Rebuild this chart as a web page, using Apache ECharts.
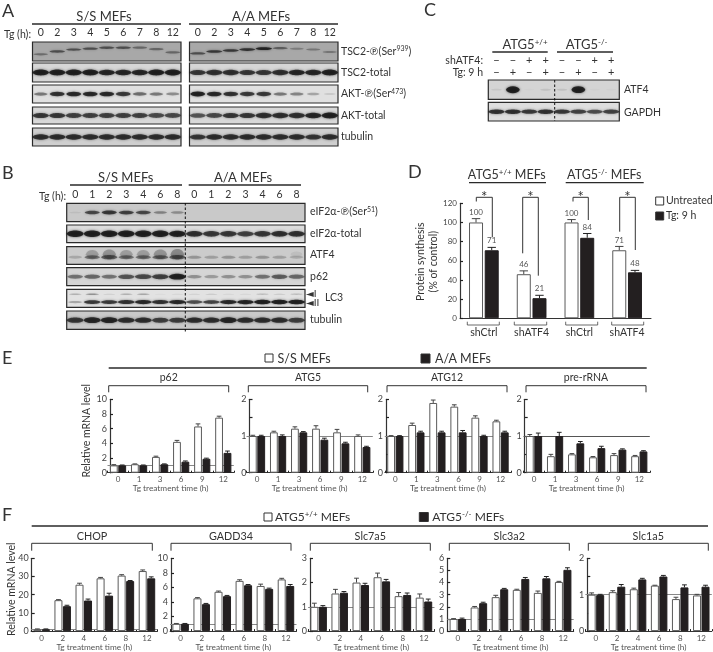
<!DOCTYPE html>
<html><head><meta charset="utf-8">
<script src="https://cdn.jsdelivr.net/npm/echarts@6/dist/echarts.min.js"></script>
<style>html,body{margin:0;padding:0;background:#fff}#c{width:713px;height:652px;filter:blur(.3px)}</style>
</head><body><div id="c"></div>
<script>
// ---------- DATA ----------
const lanesA = ['0','2','3','4','5','6','7','8','12'];
const lanesB = ['0','1','2','3','4','6','8','0','1','2','3','4','6','8'];
const shATF4Signs = ['−','−','+','+','−','−','+','+'];
const tgSigns     = ['−','+','−','+','−','+','−','+'];
// Panel A band intensities (0-1)
const tsc2pSS   = [.4,.6,.6,.6,.6,.6,.45,.45,.45];
const tsc2pSSy  = [-.3,0,.2,.3,.4,.4,.4,.25,-.1];
const tsc2pAA   = [.6,.75,.75,.8,.9,.5,.3,.35,.35];
const tsc2pAAy  = [-.2,0,.1,.2,.3,.35,.3,.2,-.05];
const tsc2tSS   = [.95,.95,.95,.95,.9,.9,.9,.95,1];
const tsc2tAA   = [.8,.85,.85,.8,.8,.85,.9,.9,.95];
const aktpSS    = [.5,.85,.9,.9,.9,.8,.55,.5,.4];
const aktpAA    = [1,.9,.85,.8,.8,.5,.45,.3,.12];
const akttSS    = [.8,.8,.75,.75,.75,.75,.75,.7,.7];
const akttAA    = [.65,.7,.8,.8,.85,.85,.85,.9,.95];
const tubASS    = [.85,.85,.85,.85,.85,.85,.85,.85,.85];
const tubAAA    = [.8,.85,.85,.85,.85,.85,.85,.8,.85];
// Panel B
const eif2p     = [.08,.7,.8,.75,.7,.4,.35,0,0,0,0,0,0,0];
const eif2t     = [1,1,1,1,1,1,.95,.85,.8,.8,.75,.8,.85,.85];
const atf4B     = [.2,.5,.6,.5,.5,.55,.6,.3,.25,.3,.25,.3,.25,.2];
const atf4Smear = [0,.25,.3,.25,.25,.3,.35,0,0,0,0,0,0,.08];
const p62B      = [.5,.55,.5,.65,.7,.75,.95,.35,.3,.35,.35,.5,.6,.55];
const lc3I      = [.25,.4,.12,.25,.3,.05,.08,.1,.15,.08,.08,.2,.15,.2];
const lc3II     = [.3,.8,.8,.85,.9,.85,.9,.7,.75,.9,.95,1,1,1];
const tubB      = [.8,.9,.9,.85,.85,.75,.75,.85,.85,.9,.85,.85,.85,.75];
// Panel C
const atf4C     = [.08,1,.02,.1,.1,.95,.03,.03];
const gapdhC    = [.85,.85,.8,.85,.8,.75,.7,.75];
// Panel D
const dCats      = ['shCtrl','shATF4','shCtrl','shATF4'];
const dUntreated = [100,46,100,71];
const dUntreatedErr = [4,3.5,3,4];
const dTg        = [71,21,84,48];
const dTgErr     = [3,3,4.5,2];
// Panel E
const eCats = ['0','1','3','6','9','12'];
const p62S = [1,1.15,2.15,4.2,6.3,7.5],   p62SErr = [.1,.05,.1,.2,.35,.2];
const p62A = [1,1,1.15,1.5,1.9,2.7],      p62AErr = [.05,.05,.05,.1,.08,.25];
const atg5S = [1,1.1,1.2,1.2,1.1,1.0],    atg5SErr = [.02,.03,.05,.08,.08,.03];
const atg5A = [1,1,1.1,.9,.8,.7],         atg5AErr = [.02,.03,.02,.04,.03,.02];
const atg12S = [1,1.3,1.9,1.8,1.5,1.4],   atg12SErr = [.01,.05,.08,.05,.05,.03];
const atg12A = [1,1.1,1.1,1.1,1,1.1],     atg12AErr = [.01,.03,.03,.05,.02,.03];
const preS = [1,.45,.5,.42,.48,.45],      preSErr = [.04,.05,.02,.02,.04,.02];
const preA = [1,1,.8,.67,.63,.58],        preAErr = [.08,.1,.05,.05,.02,.02];
// Panel F
const fCats = ['0','2','4','6','8','12'];
const chopW = [1,17,25.5,29,30.5,33],     chopWErr = [.2,.3,.8,.5,.5,.6];
const chopK = [1,13.7,16.8,19.5,27.5,29], chopKErr = [.2,.5,.8,1.3,.3,.8];
const gaddW = [1,4.5,5.4,6.9,6.2,7.1],    gaddWErr = [.05,.1,.1,.15,.25,.15];
const gaddK = [1,3.7,4.8,6.3,5.8,6.2],    gaddKErr = [.05,.1,.1,.1,.1,.2];
const slc7W = [1,1.55,2.0,2.22,1.44,1.38],slc7WErr = [.15,.17,.18,.17,.15,.15];
const slc7K = [1,1.58,1.9,2.05,1.49,1.22],slc7KErr = [.05,.05,.07,.08,.08,.1];
const slc3W = [1,1.95,2.8,3.4,3.15,4.05], slc3WErr = [.03,.08,.15,.05,.15,.05];
const slc3K = [1,2.3,3.45,4.3,4.35,5.05], slc3KErr = [.07,.08,.07,.12,.15,.17];
const slc1W = [1.0,1.07,1.15,1.25,.88,.98],slc1WErr = [.05,.04,.03,.01,.05,.03];
const slc1K = [.99,1.22,1.42,1.5,1.2,1.22],slc1KErr = [.02,.06,.03,.03,.07,.04];

// ---------- HELPERS ----------
const FF = 'Lato, "Open Sans", "DejaVu Sans", sans-serif';
const INK = '#333';
const grid = [], xAxis = [], yAxis = [], series = [], gfx = [];
const LENS = 'path://M0,50 C10,6 90,6 100,50 C90,94 10,94 0,50 Z';

function blot(cfg) {
  const i = grid.length;
  grid.push({show:true,left:cfg.x,top:cfg.y,width:cfg.w,height:cfg.h,backgroundColor:cfg.bg,
    borderColor:'#2a2a2a',borderWidth:1.2,containLabel:false});
  xAxis.push({gridIndex:i,type:'category',data:cfg.labels,position:'top',
    axisLine:{show:false},axisTick:{show:false},splitLine:{show:false},
    axisLabel:{show:!!cfg.showLabels,interval:0,margin:cfg.margin||3,fontFamily:FF,fontSize:cfg.labelSize||10.5,color:INK,lineHeight:12}});
  yAxis.push({gridIndex:i,type:'value',min:-1,max:1,show:false});
  cfg.bands.forEach(b=>{
    const laneW = cfg.w/cfg.labels.length;
    series.push({type:'scatter',xAxisIndex:i,yAxisIndex:i,symbol:LENS,silent:true,z:3,
      data:b.v.map((v,k)=>{
        if(v<=0) return null;
        const a = Math.min(1,v*1.05);
        return {value:[k,b.yo?b.yo[k]:(b.y||0)],
          symbolSize:[laneW*(b.wf||1)*(.75+.25*Math.min(1,v*1.4)),(b.hMin||2)+(b.hMax||4)*v],
          itemStyle:{color:`rgba(12,12,12,${a})`,shadowBlur:2.5,shadowColor:`rgba(12,12,12,${a*.8})`}};
      }).filter(Boolean)});
  });
}

function barPanel(cfg) {
  const i = grid.length, bw = cfg.bw, gap = cfg.gap;
  grid.push({left:cfg.left,top:cfg.top,width:cfg.width,height:cfg.height,containLabel:false});
  xAxis.push({gridIndex:i,type:'category',data:cfg.cats,
    axisLine:{lineStyle:{color:'#333',width:1}},
    axisTick:cfg.noTicks?{show:false}:{show:true,length:2,inside:true,lineStyle:{color:'#222',width:1}},
    axisLabel:{interval:0,margin:cfg.xMargin||3,fontFamily:FF,fontSize:cfg.xSize||8,color:cfg.xColor||'#555'},
    name:cfg.xName||'',nameLocation:'middle',nameGap:11,nameTextStyle:{fontFamily:FF,fontSize:8.3,color:'#555'}});
  yAxis.push({gridIndex:i,type:'value',min:0,max:cfg.max,interval:cfg.interval,offset:cfg.yOffset||0,
    axisLine:{show:true,lineStyle:{color:'#333',width:1.2}},
    axisTick:{show:true,inside:true,length:3,lineStyle:{color:'#222',width:1.2}},
    splitLine:{show:false},
    axisLabel:{margin:3,fontFamily:FF,fontSize:cfg.ySize||9,color:'#444',
      formatter:v=>cfg.intOnly?(Number.isInteger(v)?v:''):v}});
  if(cfg.ref!==undefined){
    series.push({type:'line',xAxisIndex:i,yAxisIndex:i,data:cfg.cats.map(()=>cfg.ref),showSymbol:false,silent:true,z:1,
      lineStyle:{opacity:0},
      markLine:{silent:true,z:1,symbol:'none',label:{show:false},animation:false,
        lineStyle:{color:cfg.refColor||'#888',width:1,type:'solid'},data:[{yAxis:cfg.ref}]}});
  }
  const mk = (vals,errs,color,off,errColor,labels)=>{
    series.push({type:'bar',xAxisIndex:i,yAxisIndex:i,barWidth:bw,barGap:(gap/bw*100)+'%',z:2,
      itemStyle:{color,borderColor:color==='#fff'?'#5a5a5a':'#231f20',borderWidth:1},
      data:vals.map((v,k)=>labels?{value:v,label:{show:true,position:'top',distance:errs[k]*cfg.height/cfg.max+2.5,
        fontFamily:FF,fontSize:8,color:'#555'}}:v)});
    series.push({type:'custom',xAxisIndex:i,yAxisIndex:i,z:3,silent:true,clip:false,encode:{x:0,y:1},
      data:vals.map((v,k)=>[k,v,errs[k]]),
      renderItem:(p,api)=>{
        const k=api.value(0),v=api.value(1),e=api.value(2);
        const a=api.coord([k,v]),t=api.coord([k,v+e]),x=a[0]+off,c=bw*.3;
        return {type:'group',children:[
          {type:'line',shape:{x1:x,y1:a[1],x2:x,y2:t[1]},style:{stroke:errColor,lineWidth:1}},
          {type:'line',shape:{x1:x-c,y1:t[1],x2:x+c,y2:t[1]},style:{stroke:errColor,lineWidth:1}}]};
      }});
  };
  mk(cfg.w,cfg.wErr,'#fff',-(bw+gap)/2,'#444',cfg.labels);
  mk(cfg.k,cfg.kErr,'#231f20',(bw+gap)/2,'#222',cfg.labels);
}

function text(x,y,t,o={}){
  const size=o.size||10.5;
  const style={text:t,fontFamily:FF,fontSize:size,fill:o.color||INK,align:o.align||'left',verticalAlign:'middle'};
  if(o.rich) style.rich=o.rich;
  gfx.push({type:'text',x,y,rotation:o.rot||0,silent:true,z:20,style});
}
function line(pts,w=1,color='#2a2a2a',dash){
  gfx.push({type:'polyline',silent:true,z:19,shape:{points:pts},
    style:{stroke:color,lineWidth:w,fill:null,lineDash:dash||null}});
}
function square(x,y,s,fill){
  gfx.push({type:'rect',silent:true,z:19,shape:{x,y,width:s,height:s},style:{fill,stroke:'#333',lineWidth:1}});
}
function bracket(x0,x1,top,bot){ line([[x0,bot],[x0,top],[x1,top],[x1,bot]],1,'#333'); }
const richSup=(size,sup)=>({
  a:{fontFamily:FF,fontSize:size,fill:INK,color:INK},
  s:{fontFamily:FF,fontSize:sup,fill:INK,color:INK,verticalAlign:'top',padding:[0,0,Math.round(size*.45),0]}
});

// ---------- PANEL LETTERS ----------
text(2,11,'A',{size:18}); text(2,173,'B',{size:18}); text(424,10,'C',{size:18});
text(408,172,'D',{size:18}); text(2,358,'E',{size:18}); text(2,515,'F',{size:18});

// ---------- PANEL A ----------
const aRows=[
 {y:42,h:19,bg:'#a8a8a8',ss:[{v:tsc2pSS,yo:tsc2pSSy,hMin:1.5,hMax:1.5}],aa:[{v:tsc2pAA,yo:tsc2pAAy,hMin:1.5,hMax:1.5}],name:'TSC2-℗(Ser',sup:'939',close:')'},
 {y:63,h:19,bg:'#d6d6d6',ss:[{v:tsc2tSS,hMin:2,hMax:4}],aa:[{v:tsc2tAA,hMin:2,hMax:4}],name:'TSC2-total'},
 {y:85,h:18,bg:'#e0e0e0',ss:[{v:aktpSS,hMin:1.5,hMax:3.5,wf:.92}],aa:[{v:aktpAA,hMin:1.5,hMax:3.5,wf:.92}],name:'AKT-℗(Ser',sup:'473',close:')'},
 {y:107,h:17,bg:'#d8d8d8',ss:[{v:akttSS,hMin:2,hMax:4}],aa:[{v:akttAA,hMin:2,hMax:4}],name:'AKT-total'},
 {y:128,h:18,bg:'#cfcfcf',ss:[{v:tubASS,hMin:2,hMax:4}],aa:[{v:tubAAA,hMin:2,hMax:4}],name:'tubulin'}
];
aRows.forEach((r,n)=>{
  blot({x:32.5,y:r.y,w:148.5,h:r.h,bg:r.bg,labels:lanesA,bands:r.ss,showLabels:n===0});
  blot({x:189.5,y:r.y,w:148.5,h:r.h,bg:r.bg,labels:lanesA,bands:r.aa,showLabels:n===0});
  const cy=r.y+r.h/2;
  if(r.sup) text(341,cy,`{a|${r.name}}{s|${r.sup}}{a|${r.close}}`,{rich:richSup(10.5,7)});
  else text(341,cy,r.name);
});
text(104,16.5,'S/S MEFs',{size:13,align:'center'}); line([[32,24],[181,24]],1.5);
text(261,16.5,'A/A MEFs',{size:13,align:'center'}); line([[189,24],[338,24]],1.5);
text(31,35,'Tg (h):',{size:10.5,align:'right'});

// ---------- PANEL B ----------
const bRows=[
 {y:203.3,h:18.4,bg:'#c9c9c9',bands:[{v:eif2p,hMin:1.5,hMax:3,wf:.9}]},
 {y:225,h:17.7,bg:'#dcdcdc',bands:[{v:eif2t,hMin:2,hMax:4.5}]},
 {y:246.7,h:17.6,bg:'#cbcbcb',bands:[{v:atf4Smear,y:.15,hMin:4,hMax:18,wf:.9},{v:atf4B,y:-.2,hMin:2,hMax:4}]},
 {y:267.7,h:18,bg:'#d5d5d5',bands:[{v:p62B,hMin:2,hMax:4}]},
 {y:289.3,h:18,bg:'#e2e2e2',bands:[{v:lc3I,y:.45,hMin:1,hMax:1.5,wf:.9},{v:lc3II,y:-.42,hMin:1.5,hMax:3}]},
 {y:311,h:18.3,bg:'#c9c9c9',bands:[{v:tubB,hMin:2,hMax:4}]}
];
bRows.forEach((r,n)=>blot({x:66.7,y:r.y,w:238.3,h:r.h,bg:r.bg,labels:lanesB,bands:r.bands,showLabels:n===0}));
text(125.7,178,'S/S MEFs',{size:13,align:'center'}); line([[70,185],[182,185]],1.5);
text(243,178,'A/A MEFs',{size:13,align:'center'}); line([[188.7,185],[301,185]],1.5);
text(66,196.5,'Tg (h):',{size:10.5,align:'right'});
line([[185.3,203],[185.3,332]],1,'#111',[2.5,2]);
text(310,212,'{a|eIF2α-℗(Ser}{s|51}{a|)}',{rich:richSup(10.5,7)});
text(310,234,'eIF2α-total'); text(310,255,'ATF4'); text(310,277,'p62');
text(306,294,'◄I',{size:10}); text(306,303,'◄II',{size:10}); text(325,298,'LC3');
text(310,320,'tubulin');

// ---------- PANEL C ----------
const cLabels=shATF4Signs.map((s,k)=>s+'\n'+tgSigns[k]);
blot({x:488.3,y:80,w:131,h:19.3,bg:'#d4d4d4',labels:cLabels,showLabels:true,margin:1.5,labelSize:11,
  bands:[{v:atf4C,hMin:1.5,hMax:5.5,wf:.85}]});
blot({x:488.3,y:102.3,w:131,h:18.7,bg:'#dedede',labels:cLabels,bands:[{v:gapdhC,hMin:1.5,hMax:3.5}]});
line([[554.7,80],[554.7,121]],1,'#111',[2.5,2]);
text(525,45,'{a|ATG5}{s|+/+}',{align:'center',rich:richSup(13,8)});
text(586.7,45,'{a|ATG5}{s|-/-}',{align:'center',rich:richSup(13,8)});
line([[492.3,52],[547.7,52]],1.3); line([[557,52],[613,52]],1.3);
text(483,61,'shATF4:',{size:10.5,align:'right'}); text(483,73,'Tg: 9 h',{size:10.5,align:'right'});
text(624,90,'ATF4'); text(624,113,'GAPDH');

// ---------- PANEL D ----------
barPanel({left:460,top:203.3,width:191,height:115,cats:dCats,max:120,interval:20,bw:14,gap:1.7,
  w:dUntreated,wErr:dUntreatedErr,k:dTg,kErr:dTgErr,labels:true,noTicks:true,
  xSize:10.5,xColor:INK,xMargin:9,ySize:8});
text(506.7,175,'{a|ATG5}{s|+/+}{a| MEFs}',{align:'center',rich:richSup(12.5,8)});
text(604.3,175,'{a|ATG5}{s|-/-}{a| MEFs}',{align:'center',rich:richSup(12.5,8)});
line([[469,182.7],[546,182.7]],1.3); line([[565.7,182.7],[643.7,182.7]],1.3);
[[476.3,492.3,201.5,237.3],[522.7,538.3,253.3,275.7],[573,588.3,201.5,220],[619.7,635.3,231.7,250]].forEach(b=>{
  line([[b[0],b[2]],[b[0],197.3],[b[1],197.3],[b[1],b[3]]],1,'#333');
  text((b[0]+b[1])/2,197,'*',{size:15,align:'center'});
});
[[467.3,499.3],[514.3,546.7],[565.7,597.7],[611.7,643.7]].forEach(b=>{
  line([[b[0],321.7],[b[0],325],[b[1],325],[b[1],321.7]],.8,'#444');
});
text(420.7,261.7,'Protein synthesis',{rot:Math.PI/2,align:'center',size:10.5});
text(434,261.7,'(% of control)',{rot:Math.PI/2,align:'center',size:10.5});
square(655.7,197,8,'#fff'); text(666,200.5,'Untreated',{size:10.5});
square(655.7,212,8,'#231f20'); text(666,215.5,'Tg: 9 h',{size:10.5});

// ---------- PANEL E ----------
const eCommon={cats:eCats,top:399.3,width:126.3,height:73.4,bw:7.8,gap:.6,ref:1,xName:'Tg treatment time (h)',ySize:9};
barPanel({...eCommon,left:107.5,yOffset:-2.5,max:10,interval:2,w:p62S,wErr:p62SErr,k:p62A,kErr:p62AErr});
barPanel({...eCommon,left:246.5,yOffset:-3,max:2,interval:.5,intOnly:true,w:atg5S,wErr:atg5SErr,k:atg5A,kErr:atg5AErr});
barPanel({...eCommon,left:384.8,yOffset:-1.2,max:2,interval:.5,intOnly:true,w:atg12S,wErr:atg12SErr,k:atg12A,kErr:atg12AErr});
barPanel({...eCommon,left:523.5,yOffset:-1.2,max:2,interval:.5,intOnly:true,refColor:'#555',w:preS,wErr:preSErr,k:preA,kErr:preAErr});
square(265,354,8,'#fff'); text(277.5,358.5,'S/S MEFs',{size:12.5});
square(421,354,9,'#231f20'); text(435,358.5,'A/A MEFs',{size:12.5});
line([[108.7,368],[646.7,368]],1.5);
[['p62',108.7,228.7],['ATG5',248.3,367.7],['ATG12',387,507],['pre-rRNA',526,646]].forEach(p=>{
  bracket(p[1],p[2],385.7,392.3); text((p[1]+p[2])/2,378,p[0],{size:10.5,align:'center'});
});
text(87,430.7,'Relative mRNA level',{rot:Math.PI/2,align:'center',size:10.5});

// ---------- PANEL F ----------
const fCommon={cats:fCats,top:558.3,width:126.4,height:73,bw:8,gap:.5,ref:1,xName:'Tg treatment time (h)',ySize:9};
barPanel({...fCommon,left:31.1,yOffset:-.6,max:40,interval:10,w:chopW,wErr:chopWErr,k:chopK,kErr:chopKErr});
barPanel({...fCommon,left:170.1,yOffset:-.9,max:10,interval:2,w:gaddW,wErr:gaddWErr,k:gaddK,kErr:gaddKErr});
barPanel({...fCommon,left:308.1,yOffset:-1.9,max:3,interval:1,w:slc7W,wErr:slc7WErr,k:slc7K,kErr:slc7KErr});
barPanel({...fCommon,left:447.3,max:6,interval:1,w:slc3W,wErr:slc3WErr,k:slc3K,kErr:slc3KErr});
barPanel({...fCommon,left:585.4,yOffset:-1.9,max:2,interval:.5,intOnly:true,w:slc1W,wErr:slc1WErr,k:slc1K,kErr:slc1KErr});
square(264,513,8,'#fff'); text(275,517,'{a|ATG5}{s|+/+}{a| MEFs}',{rich:richSup(12,8)});
square(419.3,512.5,9,'#231f20'); text(432.3,517,'{a|ATG5}{s|-/-}{a| MEFs}',{rich:richSup(12,8)});
line([[31.7,526],[708,526]],1.5);
[['CHOP',31.7,152.3],['GADD34',171,291],['Slc7a5',310.3,430.3],['Slc3a2',449.3,569.3],['Slc1a5',588.3,708.3]].forEach(p=>{
  bracket(p[1],p[2],543.3,550.7); text((p[1]+p[2])/2,536.7,p[0],{size:10.8,align:'center'});
});
text(11.7,589.3,'Relative mRNA level',{rot:Math.PI/2,align:'center',size:10.5});

// ---------- CHART ----------
const chart=echarts.init(document.getElementById('c'),null,{renderer:'canvas',width:713,height:652});
chart.setOption({animation:false,backgroundColor:'#fff',textStyle:{fontFamily:FF},grid,xAxis,yAxis,series,graphic:{elements:gfx}});
</script></body></html>
